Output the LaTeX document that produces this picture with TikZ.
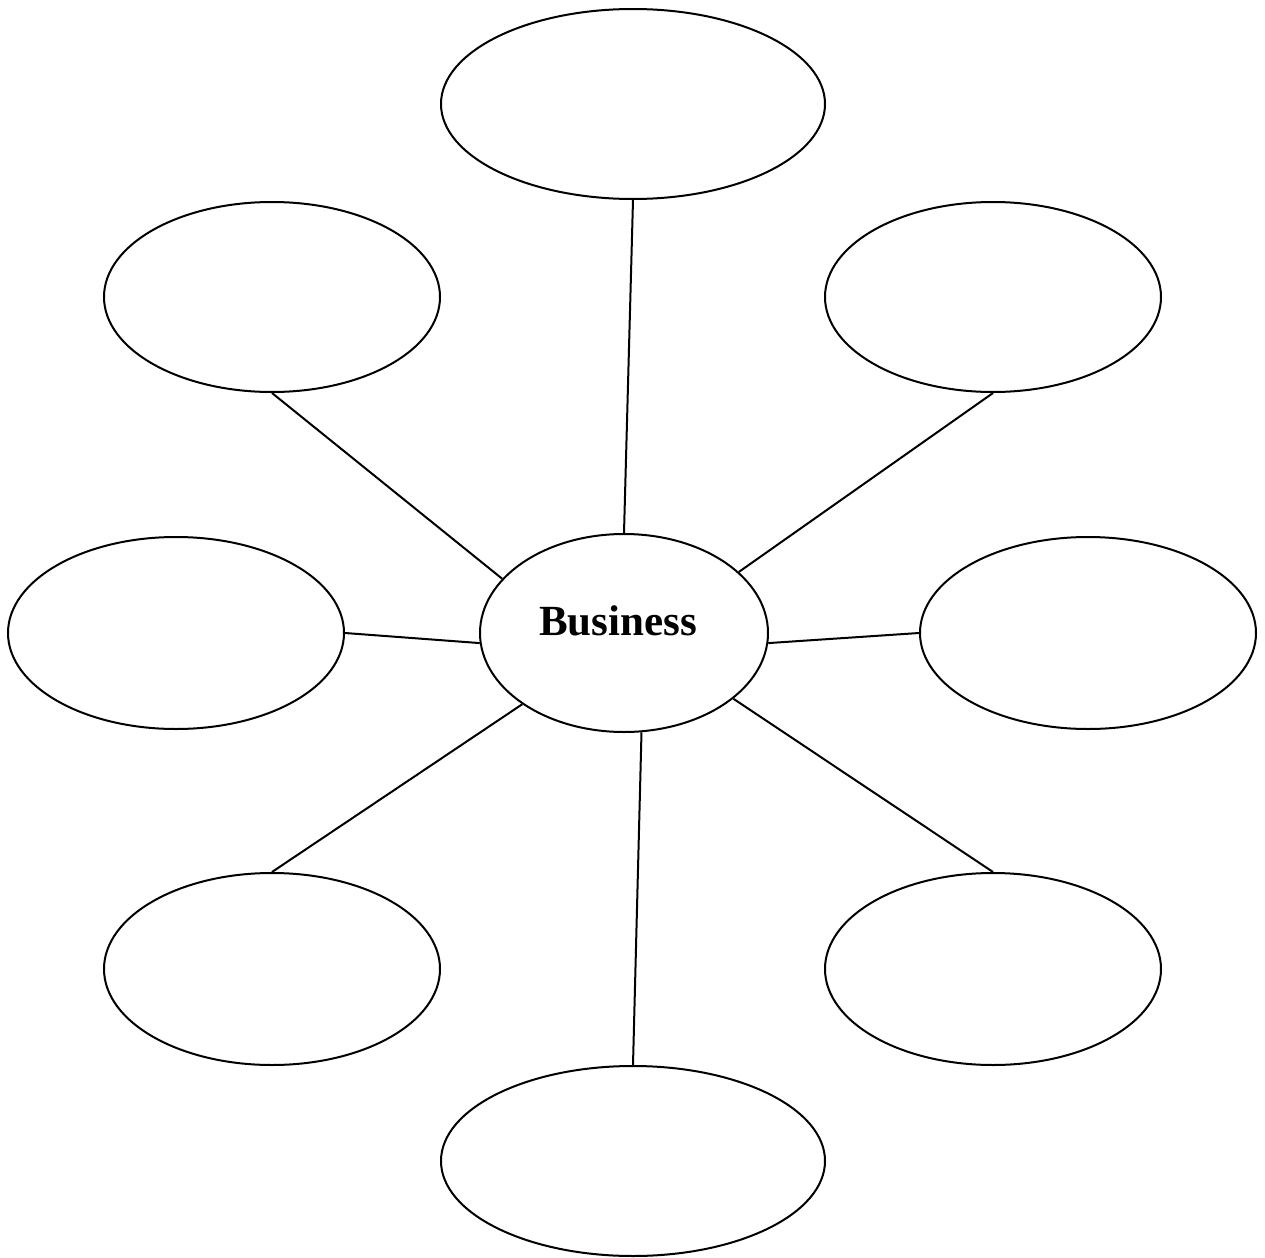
\documentclass[tikz,border=0pt]{standalone}
\usepackage{fontspec}
\setmainfont{Liberation Serif}
\usetikzlibrary{shapes.geometric}
\begin{document}
\begin{tikzpicture}[x=0.5pt,y=-0.5pt,
  bubble/.style={draw,ellipse,line width=1pt,inner sep=0pt},
  link/.style={line width=1pt}]
\useasboundingbox (0,0) rectangle (1265,1258);
\node[bubble,minimum width=192pt,minimum height=95pt] (t) at (633,104) {};
\node[bubble,minimum width=192pt,minimum height=95pt] (b) at (633,1161) {};
\node[bubble,minimum width=168pt,minimum height=95pt] (ul) at (272,297) {};
\node[bubble,minimum width=168pt,minimum height=95pt] (ur) at (993,297) {};
\node[bubble,minimum width=168pt,minimum height=96pt] (ml) at (176,633) {};
\node[bubble,minimum width=168pt,minimum height=96pt] (mr) at (1088,633) {};
\node[bubble,minimum width=168pt,minimum height=96pt] (ll) at (272,969) {};
\node[bubble,minimum width=168pt,minimum height=96pt] (lr) at (993,969) {};
\node[bubble,minimum width=144pt,minimum height=99pt] (c) at (624,633) {};
\node[font=\fontsize{21.5}{24}\selectfont\bfseries] (lbl) at (618,621) {Business};
\draw[link] (c.north) -- (t.south);
\draw[link] (c.156) -- (ul.south);
\draw[link] (c.28) -- (ur.south);
\draw[link] (c.184) -- (ml.east);
\draw[link] (c.-4) -- (mr.west);
\draw[link] (c.215) -- (ll.north);
\draw[link] (c.-31) -- (lr.north);
\draw[link] (c.-80) -- (b.north);
\end{tikzpicture}
\end{document}
